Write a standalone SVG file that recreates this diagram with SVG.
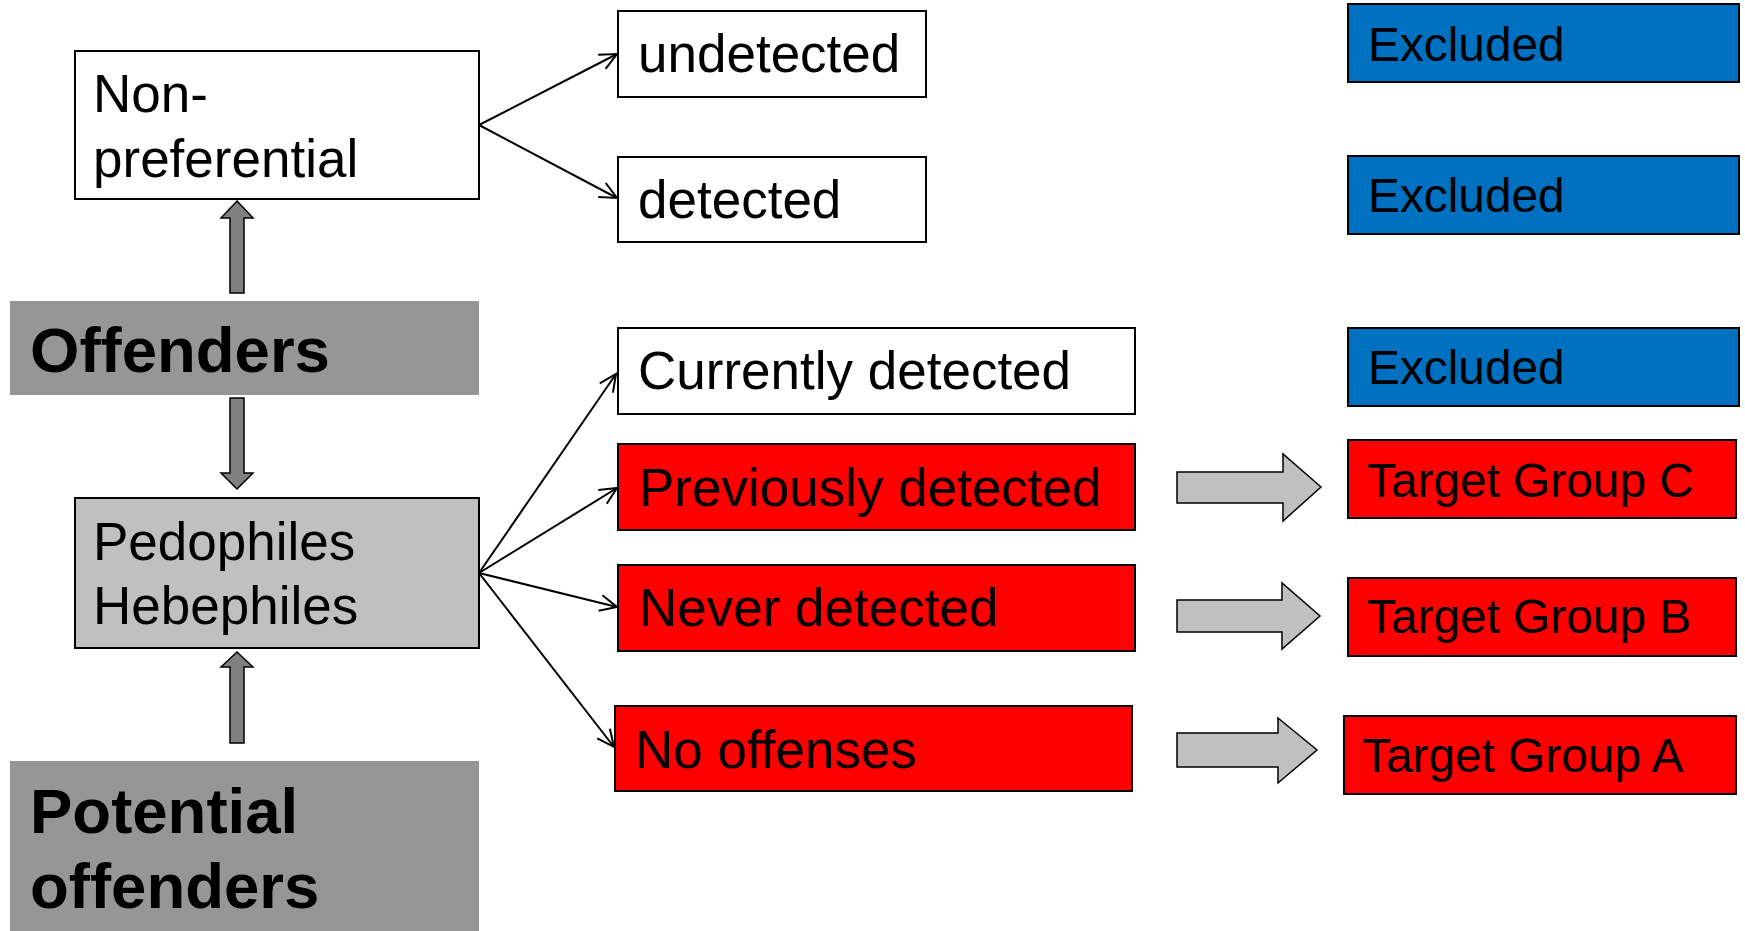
<svg xmlns="http://www.w3.org/2000/svg" width="1745" height="931" viewBox="0 0 1745 931">
<style>
  .box { stroke: #000; stroke-width: 2; }
  .white { fill: #fff; }
  .lgray { fill: #C0C0C0; }
  .dgray { fill: #969696; }
  .red { fill: #FF0000; }
  .blue { fill: #0070C0; }
  .t { font-family: "Liberation Sans", Arial, sans-serif; font-size: 53px; fill: #000; }
  .ts { font-family: "Liberation Sans", Arial, sans-serif; font-size: 47.8px; fill: #000; }
  .tb { font-family: "Liberation Sans", Arial, sans-serif; font-size: 63.5px; font-weight: bold; fill: #000; }
  .conn { stroke: #000; stroke-width: 2; fill: none; marker-end: url(#vhead); }
  .barrow { fill: #808080; stroke: #000; stroke-width: 1.5; }
  .rarrow { fill: #C0C0C0; stroke: #000; stroke-width: 1.5; }
</style>
<defs>
  <marker id="vhead" markerUnits="userSpaceOnUse" markerWidth="24" markerHeight="24" viewBox="-20 -12 24 24" refX="0" refY="0" orient="auto">
    <path d="M-17,-8 L0,0 L-17,8" fill="none" stroke="#000" stroke-width="2"/>
  </marker>
</defs>

<g id="connectors">
  <line class="conn" x1="479" y1="125" x2="617" y2="54"/>
  <line class="conn" x1="479" y1="125" x2="617" y2="198"/>
  <line class="conn" x1="479" y1="573" x2="616" y2="374"/>
  <line class="conn" x1="479" y1="573" x2="617" y2="488"/>
  <line class="conn" x1="479" y1="573" x2="617" y2="607"/>
  <line class="conn" x1="479" y1="573" x2="614" y2="747"/>
  <path class="barrow" d="M237,201 L253,218 L244,218 L244,293 L230,293 L230,218 L221,218 Z"/>
  <path class="barrow" d="M230,398 L244,398 L244,473 L253,473 L237,489 L221,473 L230,473 Z"/>
  <path class="barrow" d="M237,652 L253,667 L244,667 L244,743 L230,743 L230,667 L221,667 Z"/>
  <path class="rarrow" d="M1177,472 L1283,472 L1283,454 L1321,487 L1283,521 L1283,503 L1177,503 Z"/>
  <path class="rarrow" d="M1177,600 L1282,600 L1282,583 L1320,616 L1282,649 L1282,632 L1177,632 Z"/>
  <path class="rarrow" d="M1177,733 L1278,733 L1278,718 L1317,750 L1278,783 L1278,767 L1177,767 Z"/>
</g>

<g id="node-nonpref">
  <rect class="box white" x="75" y="51" width="404" height="148"/>
  <text class="t" x="93" y="112">Non-</text>
  <text class="t" x="93" y="177">preferential</text>
</g>
<g id="node-offenders">
  <rect class="dgray" x="10" y="301" width="469" height="94"/>
  <text class="tb" x="30" y="372">Offenders</text>
</g>
<g id="node-pedophiles">
  <rect class="box lgray" x="75" y="498" width="404" height="150"/>
  <text class="t" x="93" y="560">Pedophiles</text>
  <text class="t" x="93" y="624">Hebephiles</text>
</g>
<g id="node-potential">
  <rect class="dgray" x="10" y="761" width="469" height="170"/>
  <text class="tb" x="30" y="833">Potential</text>
  <text class="tb" x="30" y="908">offenders</text>
</g>

<g id="node-undetected">
  <rect class="box white" x="618" y="11" width="308" height="86"/>
  <text class="t" x="638" y="72">undetected</text>
</g>
<g id="node-detected">
  <rect class="box white" x="618" y="157" width="308" height="85"/>
  <text class="t" x="638" y="218">detected</text>
</g>
<g id="node-currently">
  <rect class="box white" x="618" y="328" width="517" height="86"/>
  <text class="t" x="638" y="389">Currently detected</text>
</g>
<g id="node-previously">
  <rect class="box red" x="618" y="444" width="517" height="86"/>
  <text class="t" x="639" y="506">Previously detected</text>
</g>
<g id="node-never">
  <rect class="box red" x="618" y="565" width="517" height="86"/>
  <text class="t" x="639" y="626">Never detected</text>
</g>
<g id="node-nooffenses">
  <rect class="box red" x="615" y="706" width="517" height="85"/>
  <text class="t" x="635" y="768">No offenses</text>
</g>

<g id="node-excluded1">
  <rect class="box blue" x="1348" y="4" width="391" height="78"/>
  <text class="ts" x="1368" y="61">Excluded</text>
</g>
<g id="node-excluded2">
  <rect class="box blue" x="1348" y="156" width="391" height="78"/>
  <text class="ts" x="1368" y="212">Excluded</text>
</g>
<g id="node-excluded3">
  <rect class="box blue" x="1348" y="328" width="391" height="78"/>
  <text class="ts" x="1368" y="384">Excluded</text>
</g>
<g id="node-targetC">
  <rect class="box red" x="1348" y="440" width="388" height="78"/>
  <text class="ts" x="1367" y="497">Target Group C</text>
</g>
<g id="node-targetB">
  <rect class="box red" x="1348" y="578" width="388" height="78"/>
  <text class="ts" x="1367" y="633">Target Group B</text>
</g>
<g id="node-targetA">
  <rect class="box red" x="1344" y="716" width="392" height="78"/>
  <text class="ts" x="1362" y="772">Target Group A</text>
</g>
</svg>
